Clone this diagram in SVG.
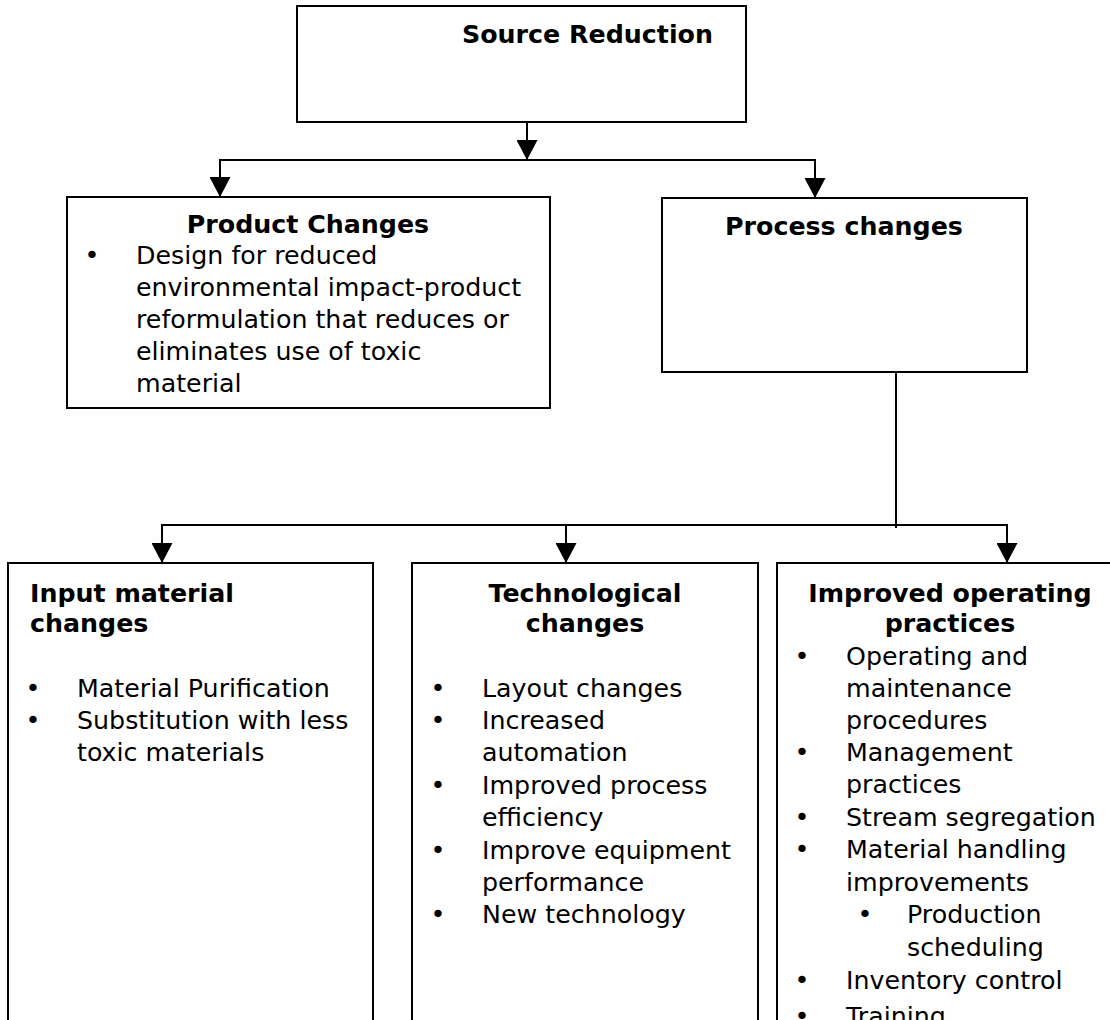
<svg xmlns="http://www.w3.org/2000/svg" width="1110" height="1020" viewBox="0 0 1110 1020">
<style>
.box{fill:#fff;stroke:#000;stroke-width:2}
.con{fill:none;stroke:#000;stroke-width:2}
text{font-family:"DejaVu Sans","Verdana",sans-serif;font-size:25.3px;fill:#000}
.h{font-weight:bold}
.c{text-anchor:middle}
.b{text-anchor:middle}
</style>
<defs>
<marker id="arr" markerUnits="userSpaceOnUse" markerWidth="20" markerHeight="21" viewBox="0 0 20 21" refX="20" refY="10.5" orient="auto">
<path d="M0,0 L20,10.5 L0,21 Z" fill="#000"/>
</marker>
</defs>
<rect width="1110" height="1020" fill="#fff"/>

<g id="connectors">
<path class="con" d="M527,122 V160" marker-end="url(#arr)"/>
<path class="con" d="M527,160 H220 V197" marker-end="url(#arr)"/>
<path class="con" d="M527,160 H815 V198" marker-end="url(#arr)"/>
<path class="con" d="M896,372 V528"/>
<path class="con" d="M896,525 H162 V563" marker-end="url(#arr)"/>
<path class="con" d="M896,525 H566 V563" marker-end="url(#arr)"/>
<path class="con" d="M896,525 H1007 V563" marker-end="url(#arr)"/>
</g>

<g id="source-reduction">
<rect class="box" x="297" y="6" width="449" height="116"/>
<text class="h" x="462" y="43">Source Reduction</text>
</g>

<g id="product-changes">
<rect class="box" x="67" y="197" width="483" height="211"/>
<text class="h c" x="308" y="233">Product Changes</text>
<text class="b" x="92" y="264">•</text>
<text x="136" y="264">Design for reduced</text>
<text x="136" y="296">environmental impact-product</text>
<text x="136" y="328">reformulation that reduces or</text>
<text x="136" y="360">eliminates use of toxic</text>
<text x="136" y="392">material</text>
</g>

<g id="process-changes">
<rect class="box" x="662" y="198" width="365" height="174"/>
<text class="h" x="725" y="235">Process changes</text>
</g>

<g id="input-material-changes">
<rect class="box" x="8" y="563" width="365" height="470"/>
<text class="h" x="30" y="602">Input material</text>
<text class="h" x="30" y="632">changes</text>
<text class="b" x="33" y="697">•</text>
<text x="77" y="697">Material Purification</text>
<text class="b" x="33" y="729">•</text>
<text x="77" y="729">Substitution with less</text>
<text x="77" y="761">toxic materials</text>
</g>

<g id="technological-changes">
<rect class="box" x="412" y="563" width="346" height="470"/>
<text class="h c" x="585" y="602">Technological</text>
<text class="h c" x="585" y="632">changes</text>
<text class="b" x="438" y="697">•</text>
<text x="482" y="697">Layout changes</text>
<text class="b" x="438" y="729">•</text>
<text x="482" y="729">Increased</text>
<text x="482" y="761">automation</text>
<text class="b" x="438" y="794">•</text>
<text x="482" y="794">Improved process</text>
<text x="482" y="826">efficiency</text>
<text class="b" x="438" y="859">•</text>
<text x="482" y="859">Improve equipment</text>
<text x="482" y="891">performance</text>
<text class="b" x="438" y="923">•</text>
<text x="482" y="923">New technology</text>
</g>

<g id="improved-operating-practices">
<rect class="box" x="777" y="563" width="360" height="470"/>
<text class="h c" x="950" y="602">Improved operating</text>
<text class="h c" x="950" y="632">practices</text>
<text class="b" x="802" y="665">•</text>
<text x="846" y="665">Operating and</text>
<text x="846" y="697">maintenance</text>
<text x="846" y="729">procedures</text>
<text class="b" x="802" y="761">•</text>
<text x="846" y="761">Management</text>
<text x="846" y="793">practices</text>
<text class="b" x="802" y="826">•</text>
<text x="846" y="826">Stream segregation</text>
<text class="b" x="802" y="858">•</text>
<text x="846" y="858">Material handling</text>
<text x="846" y="891">improvements</text>
<text class="b" x="865" y="923">•</text>
<text x="907" y="923">Production</text>
<text x="907" y="956">scheduling</text>
<text class="b" x="802" y="989">•</text>
<text x="846" y="989">Inventory control</text>
<text class="b" x="802" y="1025">•</text>
<text x="846" y="1025">Training</text>
</g>
</svg>
